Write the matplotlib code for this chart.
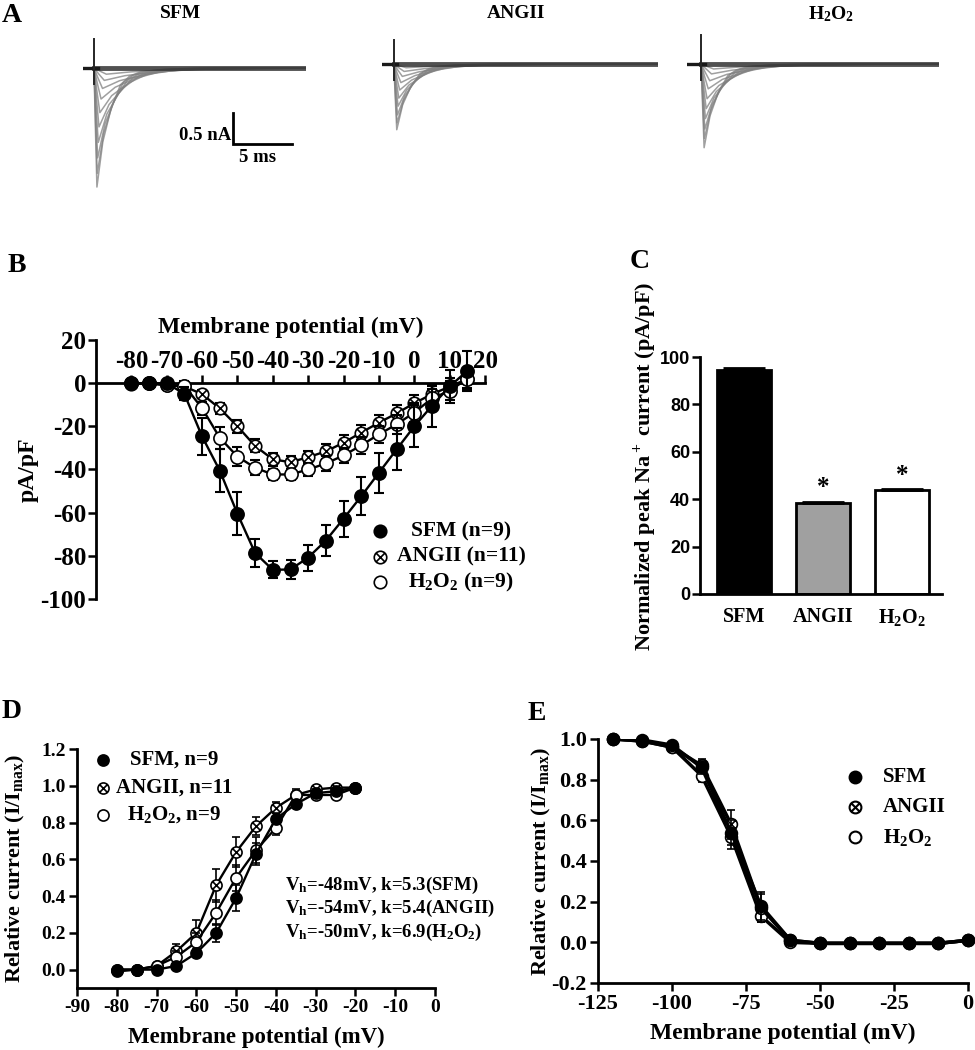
import numpy as np
import matplotlib
matplotlib.use("Agg")
import matplotlib.pyplot as plt
from matplotlib.path import Path
from matplotlib.ticker import FormatStrFormatter

plt.rcParams['font.family'] = ['Liberation Serif', 'DejaVu Serif']
plt.rcParams['font.weight'] = 'bold'
plt.rcParams['axes.labelweight'] = 'bold'
plt.rcParams['mathtext.fontset'] = 'custom'
plt.rcParams['mathtext.rm'] = 'Liberation Serif:bold'
plt.rcParams['mathtext.it'] = 'Liberation Serif:bold'
plt.rcParams['mathtext.bf'] = 'Liberation Serif:bold'
plt.rcParams['axes.unicode_minus'] = False
plt.rcParams['axes.linewidth'] = 2.0

# ---- data ----
groups = ['SFM', 'ANGII', 'H$_2$O$_2$']

# A: example current families (nA), template shape
A_t = [0, 0.12, 0.25, 0.75, 1.45, 2.25, 3.0, 4.0, 6.0, 9.0]
A_shape = [0, -0.5, -1.0, -0.62, -0.34, -0.14, -0.07, -0.03, -0.01, 0]
A_stretch = [1.0, 1.1, 1.25, 1.45, 1.7, 2.0, 2.4, 2.9, 3.5, 4.2]
A_amp_sfm = [1.92, 1.7, 1.45, 1.2, 0.95, 0.72, 0.5, 0.33, 0.2, 0.1]
A_amp_ang = [1.06, 0.95, 0.82, 0.68, 0.55, 0.42, 0.3, 0.2, 0.12, 0.06]
A_amp_h2o2 = [1.35, 1.2, 1.05, 0.88, 0.72, 0.56, 0.4, 0.27, 0.16, 0.08]
A_spike = [0.47, 0.39, 0.47]

# B: I-V relation
B_v = [-80, -75, -70, -65, -60, -55, -50, -45, -40, -35, -30, -25, -20, -15, -10, -5, 0, 5, 10, 15]
B_sfm = [0, 0, 0, -5, -24.7, -40.5, -60.5, -78.7, -86.5, -86.3, -80.8, -72.9, -62.8, -52.4, -41.5, -30.7, -20, -10.5, -1.5, 5.7]
B_sfm_err = [1, 1, 1, 3, 8.5, 10, 10, 6.5, 4, 4.5, 6, 7.4, 8.3, 8.8, 9.3, 9.7, 9.7, 9.7, 7.8, 9.3]
B_ang = [-0.5, 0, -1, -1.5, -5.1, -11.7, -20, -29.1, -35.3, -36.6, -34.3, -31.6, -27.6, -22.9, -18.3, -14, -9.3, -5.1, -1.6, 1.9]
B_ang_err = [1, 1, 1, 1.5, 2, 2.5, 3, 3, 3, 3, 3, 3.5, 3.5, 3.5, 3.5, 4, 4, 4, 4, 4]
B_h2o2 = [0, 0, -1, -1.2, -11.6, -25.3, -34, -39.2, -42.3, -42.3, -40, -37.2, -33.5, -28.8, -23.7, -19.1, -13.6, -7.1, -3.5, 2]
B_h2o2_err = [1, 1, 1, 2, 3, 5, 4.5, 3.5, 2.5, 2.5, 3, 3.5, 3.5, 4, 4, 4.5, 4.5, 4.5, 4.5, 4.5]

# C: normalized peak current
C_vals = [94.5, 38.2, 43.7]
C_err = [0.7, 0.8, 0.6]

# D: activation
D_v = [-80, -75, -70, -65, -60, -55, -50, -45, -40, -35, -30, -25, -20]
D_sfm = [0.0, 0.0, 0.0, 0.02, 0.09, 0.20, 0.39, 0.63, 0.82, 0.90, 0.96, 0.97, 0.99]
D_sfm_err = [0.01, 0.01, 0.01, 0.01, 0.02, 0.05, 0.07, 0.06, 0.03, 0.02, 0.02, 0.01, 0.005]
D_ang = [-0.01, 0.0, 0.02, 0.10, 0.20, 0.46, 0.64, 0.78, 0.88, 0.95, 0.98, 0.99, 0.99]
D_ang_err = [0.01, 0.01, 0.01, 0.04, 0.07, 0.09, 0.08, 0.05, 0.03, 0.02, 0.01, 0.01, 0.01]
D_h2o2 = [0.0, 0.0, 0.02, 0.07, 0.15, 0.31, 0.50, 0.65, 0.77, 0.95, 0.95, 0.95, 0.99]
D_h2o2_err = [0.01, 0.01, 0.01, 0.03, 0.05, 0.07, 0.07, 0.07, 0.04, 0.03, 0.02, 0.02, 0.01]
D_notes = ['V$_\\mathrm{h}$=-48mV, k=5.3(SFM)',
           'V$_\\mathrm{h}$=-54mV, k=5.4(ANGII)',
           'V$_\\mathrm{h}$=-50mV, k=6.9(H$_2$O$_2$)']

# E: steady-state inactivation
E_v = [-120, -110, -100, -90, -80, -70, -60, -50, -40, -30, -20, -10, 0]
E_sfm = [1.0, 0.995, 0.97, 0.86, 0.54, 0.18, 0.01, -0.005, -0.005, -0.005, -0.005, -0.005, 0.01]
E_sfm_err = [0, 0.005, 0.01, 0.03, 0.06, 0.07, 0.01, 0, 0, 0, 0, 0, 0]
E_ang = [1.0, 0.99, 0.96, 0.87, 0.58, 0.17, 0.01, -0.005, -0.005, -0.005, -0.005, -0.005, 0.01]
E_ang_err = [0, 0.005, 0.01, 0.03, 0.07, 0.07, 0.01, 0, 0, 0, 0, 0, 0]
E_h2o2 = [1.0, 0.99, 0.96, 0.82, 0.52, 0.13, 0.0, -0.005, -0.005, -0.005, -0.005, -0.005, 0.01]
E_h2o2_err = [0, 0.005, 0.01, 0.03, 0.06, 0.03, 0.01, 0, 0, 0, 0, 0, 0]

# ---- figure helpers (pixel layout) ----
W, H = 975, 1050
fig = plt.figure(figsize=(9.75, 10.5), dpi=100)


def box(l, t, r, b):
    return fig.add_axes([l / W, 1 - b / H, (r - l) / W, (b - t) / H])


def fx(x):
    return x / W


def fy(y):
    return 1 - y / H


def bold_ticks(ax):
    for lab in ax.get_xticklabels() + ax.get_yticklabels():
        lab.set_fontweight('bold')


d = np.sqrt(0.5)
cross = Path([[-d, -d], [d, d], [-d, d], [d, -d]],
             [Path.MOVETO, Path.LINETO, Path.MOVETO, Path.LINETO])
OTIMES = Path.make_compound_path(Path.unit_circle(), cross)


def series(ax, x, y, err, marker, face, ms, lw, z, elw=1.5, cap=3.5):
    ax.errorbar(x, y, yerr=err, fmt='none', ecolor='k', elinewidth=elw,
                capsize=cap, capthick=elw, zorder=z)
    ax.plot(x, y, '-', color='k', lw=lw, zorder=z + 0.1)
    ax.plot(x, y, linestyle='none', marker=marker, ms=ms, mfc=face, mec='k',
            mew=1.2, zorder=z + 0.2, clip_on=False)


# ---- A ----
fig.text(fx(12), fy(15), 'A', fontsize=20, ha='center', va='center')
px_ms, px_na = 11.8, 62.0
A_left = [83, 382, 687]
A_right = [306, 658, 939]
A_base = [68, 64, 64]
A_stim = [0.93, 1.0, 1.2]
A_lab_x = [181, 516, 831]
for k, amps in enumerate([A_amp_sfm, A_amp_ang, A_amp_h2o2]):
    ax = box(A_left[k], 25, A_right[k], 200)
    t_end = (A_right[k] - A_left[k]) / px_ms
    ax.set_xlim(0, t_end)
    ax.set_ylim(-(200 - A_base[k]) / px_na, (A_base[k] - 25) / px_na)
    ax.axis('off')
    stim = A_stim[k]
    for amp, st in zip(amps, A_stretch):
        t = [0] + [stim + ti * st for ti in A_t] + [t_end]
        y = [0] + [amp * s for s in A_shape] + [0]
        ax.plot(t, y, color='0.5', lw=1.1, alpha=0.75)
    ax.plot([stim, t_end], [0, 0], color='0.2', lw=3.5, alpha=0.85)
    ax.plot([0, stim + 0.3], [0, 0], color='0.1', lw=2.4)
    ax.plot([stim, stim], [A_spike[k], -0.25], color='0.15', lw=1.4)
    fig.text(fx(A_lab_x[k]), fy(14), groups[k], fontsize=14, ha='center', va='center')
    if k == 0:
        xb = (233 - A_left[0]) / px_ms
        y0 = (A_base[0] - 113) / px_na
        ax.plot([xb, xb, xb + 5], [y0, y0 - 0.5, y0 - 0.5], color='k', lw=2,
                clip_on=False, solid_joinstyle='miter')
        ax.text(xb - 0.15, y0 - 0.36, '0.5 nA', fontsize=13.5, ha='right', va='center')
        ax.text(xb + 2.1, y0 - 0.72, '5 ms', fontsize=13.5, ha='center', va='center')

# ---- B ----
fig.text(fx(17), fy(265), 'B', fontsize=20, ha='center', va='center')
axB = box(96, 340, 485, 599)
axB.set_xlim(-90, 20)
axB.set_ylim(-100, 20)
axB.spines['right'].set_visible(False)
axB.spines['bottom'].set_visible(False)
axB.spines['top'].set_position(('data', 0))
axB.xaxis.tick_top()
axB.set_xticks(np.arange(-80, 21, 10))
axB.set_yticks(np.arange(-100, 21, 20))
axB.tick_params(axis='both', width=1.8, length=6, labelsize=18, pad=1)
bold_ticks(axB)
axB.xaxis.set_label_position('top')
axB.set_xlabel('Membrane potential (mV)', fontsize=17, va='center')
axB.xaxis.set_label_coords(0.5, 1 + 13 / 259)
axB.set_ylabel('pA/pF', fontsize=17, va='center')
axB.yaxis.set_label_coords(-68 / 389, 0.5)
series(axB, B_v, B_ang, B_ang_err, OTIMES, 'white', 9, 1.7, 3)
series(axB, B_v, B_h2o2, B_h2o2_err, 'o', 'white', 9.5, 1.7, 4)
series(axB, B_v, B_sfm, B_sfm_err, 'o', 'black', 9.5, 1.7, 5)

B_leg = ['SFM (n=9)', 'ANGII (n=11)', 'H$_2$O$_2$ (n=9)']
for i, (lab, mk, face) in enumerate(zip(B_leg, ['o', OTIMES, 'o'], ['black', 'white', 'white'])):
    yy = 531 + 25.5 * i
    axB.plot([fx(380)], [fy(yy)], transform=fig.transFigure, marker=mk, ms=9,
             mfc=face, mec='k', mew=1.2, clip_on=False)
    fig.text(fx(461), fy(yy), lab, fontsize=15.5, ha='center', va='center')

# ---- C ----
fig.text(fx(640), fy(262), 'C', fontsize=20, ha='center', va='center')
axC = box(700, 357, 942, 594)
xc = np.arange(3)
axC.bar(xc, C_vals, width=0.68, color=['black', '#a0a0a0', 'white'],
        edgecolor='k', linewidth=2, zorder=2)
axC.errorbar(xc, C_vals, yerr=[np.zeros(3), C_err], fmt='none', ecolor='k',
             elinewidth=2, capsize=15, capthick=2, zorder=3)
axC.set_xlim(-0.557, 2.51)
axC.set_ylim(0, 100)
axC.spines['right'].set_visible(False)
axC.spines['top'].set_visible(False)
axC.set_xticks(xc)
axC.set_xticklabels(groups, fontsize=14.5)
axC.tick_params(axis='x', length=0, pad=9)
axC.set_yticks(np.arange(0, 101, 20))
axC.tick_params(axis='y', width=1.8, length=6, pad=1)
for lab in axC.get_yticklabels():
    lab.set_fontfamily('Liberation Sans')
    lab.set_fontsize(13)
bold_ticks(axC)
axC.set_ylabel('Normalized peak Na$^+$ current (pA/pF)', fontsize=16, va='center')
axC.yaxis.set_label_coords(-55 / 242, 0.54)
for i in [1, 2]:
    axC.annotate('*', xy=(xc[i], C_vals[i] + C_err[i]), xytext=(0, 10),
                 textcoords='offset points', ha='center', va='center', fontsize=18)

# ---- D ----
fig.text(fx(12), fy(712), 'D', fontsize=20, ha='center', va='center')
axD = box(77, 749, 435, 988)
axD.set_xlim(-90, 0)
axD.set_ylim(-0.1, 1.2)
axD.spines['right'].set_visible(False)
axD.spines['top'].set_visible(False)
axD.set_xticks(np.arange(-90, 1, 10))
axD.set_yticks(np.arange(0, 1.21, 0.2))
axD.yaxis.set_major_formatter(FormatStrFormatter('%.1f'))
axD.tick_params(axis='both', width=1.8, length=6, labelsize=14, pad=2)
bold_ticks(axD)
axD.set_xlabel('Membrane potential (mV)', fontsize=16.5, va='center')
axD.xaxis.set_label_coords(0.5, -49 / 239)
axD.set_ylabel('Relative current (I/I$_\\mathrm{max}$)', fontsize=16, va='center')
axD.yaxis.set_label_coords(-62 / 358, 0.5)
series(axD, D_v, D_ang, D_ang_err, OTIMES, 'white', 8, 1.7, 3, elw=1.2, cap=3)
series(axD, D_v, D_h2o2, D_h2o2_err, 'o', 'white', 8, 1.7, 4, elw=1.2, cap=3)
series(axD, D_v, D_sfm, D_sfm_err, 'o', 'black', 8, 1.7, 5, elw=1.2, cap=3)

D_leg = ['SFM, n=9', 'ANGII, n=11', 'H$_2$O$_2$, n=9']
for i, (lab, mk, face) in enumerate(zip(D_leg, ['o', OTIMES, 'o'], ['black', 'white', 'white'])):
    yy = 760 + 27.5 * i
    axD.plot([fx(103)], [fy(yy)], transform=fig.transFigure, marker=mk, ms=8,
             mfc=face, mec='k', mew=1.2, clip_on=False)
    fig.text(fx(174), fy(yy), lab, fontsize=15, ha='center', va='center')
for i, note in enumerate(D_notes):
    fig.text(fx(285), fy(885 + 23.5 * i), note, fontsize=13.5, ha='left', va='center')

# ---- E ----
fig.text(fx(537), fy(714), 'E', fontsize=20, ha='center', va='center')
axE = box(598, 739, 968, 983)
axE.set_xlim(-125, 0)
axE.set_ylim(-0.2, 1.0)
axE.spines['right'].set_visible(False)
axE.spines['top'].set_visible(False)
axE.set_xticks(np.arange(-125, 1, 25))
axE.set_yticks(np.arange(-0.2, 1.01, 0.2))
axE.yaxis.set_major_formatter(FormatStrFormatter('%.1f'))
axE.tick_params(axis='both', width=1.8, length=6, labelsize=16, pad=2)
bold_ticks(axE)
axE.set_xlabel('Membrane potential (mV)', fontsize=17, va='center')
axE.xaxis.set_label_coords(0.5, -50 / 244)
axE.set_ylabel('Relative current (I/I$_\\mathrm{max}$)', fontsize=16, va='center')
axE.yaxis.set_label_coords(-57 / 370, 0.5)
series(axE, E_v, E_h2o2, E_h2o2_err, 'o', 'white', 8.5, 2.5, 3, elw=1.2, cap=3)
series(axE, E_v, E_ang, E_ang_err, OTIMES, 'white', 8.5, 2.5, 4, elw=1.2, cap=3)
series(axE, E_v, E_sfm, E_sfm_err, 'o', 'black', 8.5, 2.5, 5, elw=1.2, cap=3)

E_leg = ['SFM', 'ANGII', 'H$_2$O$_2$']
for i, (lab, mk, face) in enumerate(zip(E_leg, ['o', OTIMES, 'o'], ['black', 'white', 'white'])):
    yy = 777 + 30 * i
    axE.plot([fx(855)], [fy(yy)], transform=fig.transFigure, marker=mk, ms=8.5,
             mfc=face, mec='k', mew=1.5, clip_on=False)
    fig.text(fx(883), fy(yy), lab, fontsize=15, ha='left', va='center')

fig.savefig('out.png', dpi=100)
